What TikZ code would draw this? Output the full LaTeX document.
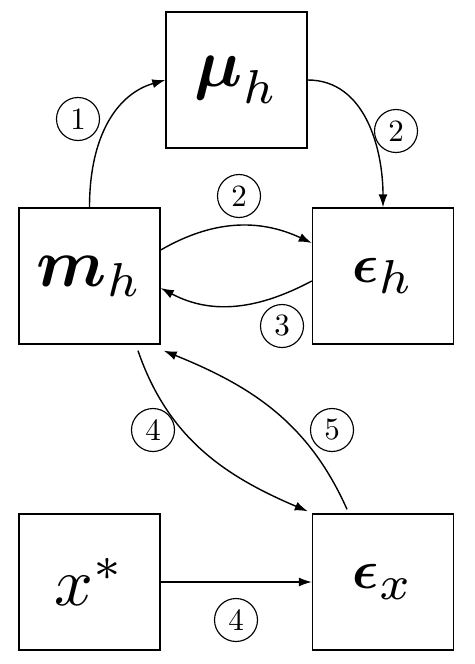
\RequirePackage{fix-cm}
\documentclass[tikz,border=0pt]{standalone}
\usepackage{amsmath}
\usepackage{graphicx}
\usetikzlibrary{arrows.meta,calc}
\newcommand\boxtext[1]{\scalebox{6.8}{#1}}
\newcommand\numtext[1]{\scalebox{3.1}{#1}}
\begin{document}
\begin{tikzpicture}[x=1pt,y=1pt,
  box/.style={draw,line width=1.4pt,minimum width=141pt,minimum height=136pt,inner sep=0pt,font=\fontsize{10}{12}\selectfont},
  num/.style={draw,circle,line width=1.15pt,minimum size=43pt,inner sep=0pt,font=\fontsize{10}{12}\selectfont},
  link/.style={line width=1.4pt,-{Latex[length=13pt,width=9pt]}}]
\useasboundingbox (0,0) rectangle (474,-664);
\node[box] (mu) at (236.5,-80) {\boxtext{$\boldsymbol{\mu}_h$}};
\node[box] (mh) at (89.5,-276) {\boxtext{$\boldsymbol{m}_h$}};
\node[box] (eh) at (383,-276) {\boxtext{$\scalebox{0.8}{$\boldsymbol{\epsilon}$}_h$}};
\node[box] (xs) at (89.5,-582) {\boxtext{$x^*$}};
\node[box] (ex) at (383,-582) {\boxtext{$\scalebox{0.8}{$\boldsymbol{\epsilon}$}_x$}};

\node[num] (n1) at (78,-119) {\numtext{1}};
\node[num] (n2a) at (396,-131) {\numtext{2}};
\node[num] (n2b) at (239,-196) {\numtext{2}};
\node[num] (n3) at (282,-326) {\numtext{3}};
\node[num] (n4a) at (153,-430) {\numtext{4}};
\node[num] (n5) at (332,-430) {\numtext{5}};
\node[num] (n4b) at (236,-620) {\numtext{4}};

\draw[link] (mh.north) .. controls +(90:72) and +(196:50) .. (mu.west);
\draw[link] (mu.east) to[out=0,in=90] (eh.north);
\draw[link] ([yshift=26pt]mh.east) to[out=30,in=155] ([yshift=33pt]eh.west);
\draw[link] ([yshift=-5pt]eh.west) to[out=208,in=-28] ([yshift=-12pt]mh.east);
\draw[link] ([xshift=48.5pt,yshift=-6pt]mh.south) to[out=-71,in=157] ([xshift=-4pt,yshift=2pt]ex.north west);
\draw[link] ([xshift=-36pt,yshift=4pt]ex.north) to[out=114,in=-22] ([xshift=3pt,yshift=-6pt]mh.south east);
\draw[link] (xs.east) -- (ex.west);
\end{tikzpicture}
\end{document}
